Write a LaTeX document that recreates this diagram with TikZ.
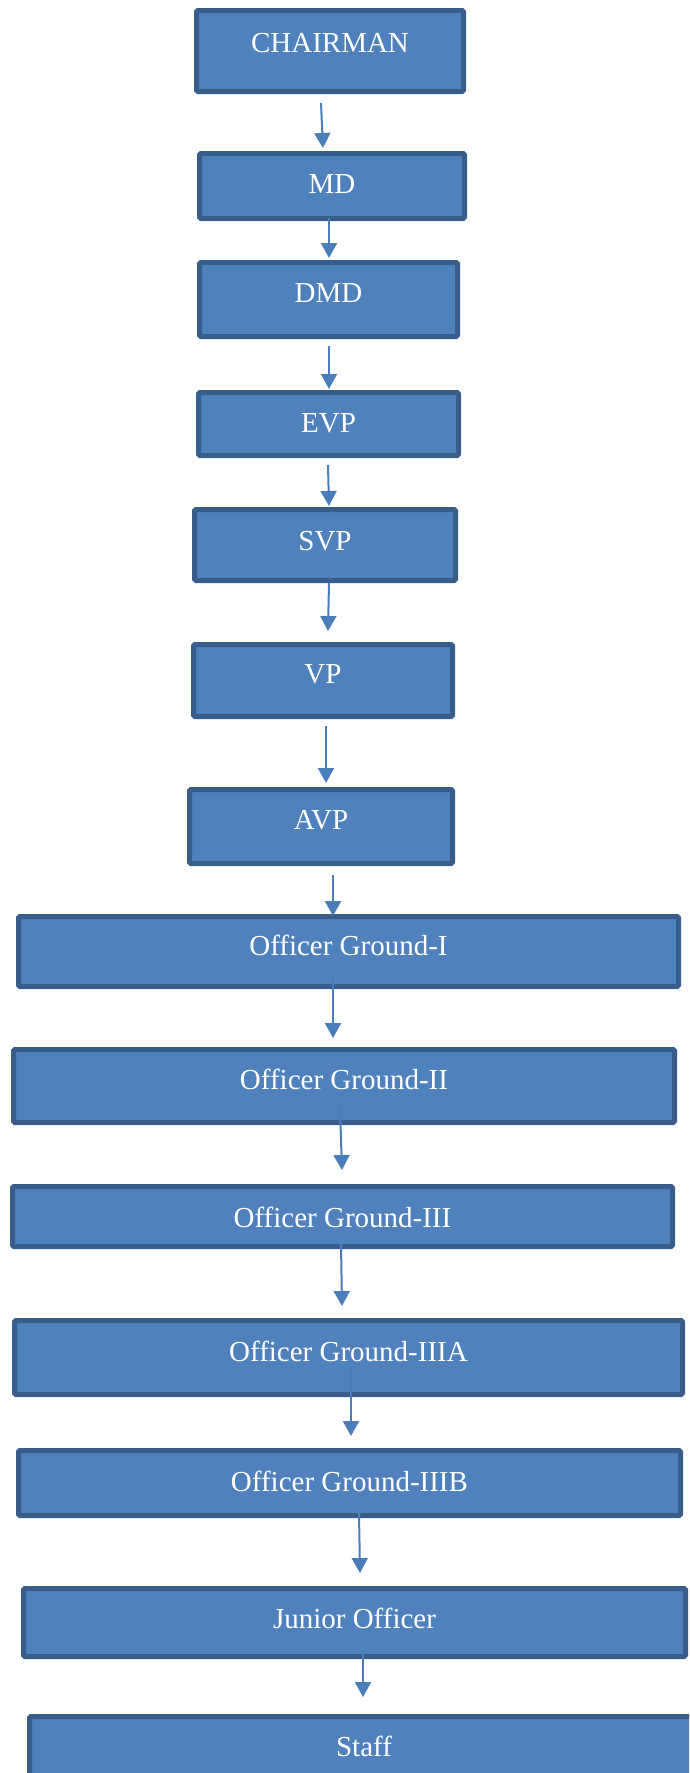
\documentclass[tikz,border=0pt]{standalone}
\usepackage{fontspec}
\setmainfont{Liberation Serif}
\usetikzlibrary{arrows.meta}
\definecolor{boxfill}{HTML}{4F81BD}
\definecolor{boxline}{HTML}{385D8A}
\definecolor{linkcol}{HTML}{4A7EBB}
\tikzset{
  rankbox/.style={rectangle, draw=boxline, fill=boxfill, line width=5pt,
    rounded corners=1.5pt, inner sep=0pt, anchor=north west,
    text=white, font=\fontsize{29}{34}\selectfont},
  conn/.style={draw=linkcol, line width=2pt,
    -{Triangle[width=16pt,length=15pt]}, fill=linkcol}
}
\begin{document}
\begin{tikzpicture}[x=1pt, y=-1pt]
\path[use as bounding box] (0,0) rectangle (689,1773);
\clip (0,0) rectangle (689,1773);

% hierarchy boxes (outer top-left corner, stroke-path size, text placement)
\node[rankbox, minimum width=267pt, minimum height=81pt, text height=41.5pt, text depth=39.5pt] (chair) at (194,8) {CHAIRMAN};
\node[rankbox, minimum width=265pt, minimum height=65pt, text height=39.5pt, text depth=25.5pt] (md) at (197,151) {MD};
\node[rankbox, minimum width=258pt, minimum height=74pt, text height=39.5pt, text depth=34.5pt] (dmd) at (197,260) {DMD};
\node[rankbox, minimum width=260pt, minimum height=63pt, text height=39.5pt, text depth=23.5pt] (evp) at (196,390) {EVP};
\node[rankbox, minimum width=261pt, minimum height=71pt, text height=40.5pt, text depth=30.5pt] (svp) at (192,507) {SVP};
\node[rankbox, minimum width=259pt, minimum height=72pt, text height=38.5pt, text depth=33.5pt] (vp) at (191,642) {VP};
\node[rankbox, minimum width=263pt, minimum height=74pt, text height=39.5pt, text depth=34.5pt] (avp) at (187,787) {AVP};
\node[rankbox, minimum width=660pt, minimum height=70pt, text height=38.5pt, text depth=31.5pt] (og1) at (16,914) {Officer Ground-I};
\node[rankbox, minimum width=661pt, minimum height=73pt, text height=39.5pt, text depth=33.5pt] (og2) at (11,1047) {Officer Ground-II};
\node[rankbox, minimum width=660pt, minimum height=60pt, text height=40.5pt, text depth=19.5pt] (og3) at (10,1184) {Officer Ground-III};
\node[rankbox, minimum width=668pt, minimum height=74pt, text height=40.5pt, text depth=33.5pt] (og3a) at (12,1318) {Officer Ground-IIIA};
\node[rankbox, minimum width=662pt, minimum height=65pt, text height=40.5pt, text depth=24.5pt] (og3b) at (16,1448) {Officer Ground-IIIB};
\node[rankbox, minimum width=662pt, minimum height=68pt, text height=39.5pt, text depth=28.5pt] (junior) at (21,1586) {Junior Officer};
\node[rankbox, minimum width=669pt, minimum height=71pt, text height=39.5pt, text depth=31.5pt] (staff) at (27,1714) {Staff};

% reporting arrows
\draw[conn] ([shift={(127,9)}]chair.south west) -- ([shift={(126,-3)}]md.north west);
\draw[conn] ([shift={(132,-3)}]md.south west) -- ([shift={(132,-2)}]dmd.north west);
\draw[conn] ([shift={(132,7)}]dmd.south west) -- ([shift={(133,-1)}]evp.north west);
\draw[conn] ([shift={(132,7)}]evp.south west) -- ([shift={(137,-1)}]svp.north west);
\draw[conn] ([shift={(137,0)}]svp.south west) -- ([shift={(137,-11)}]vp.north west);
\draw[conn] ([shift={(135,7)}]vp.south west) -- ([shift={(139,-4)}]avp.north west);
\draw[conn] ([shift={(146,9)}]avp.south west) -- ([shift={(317,2)}]og1.north west);
\draw[conn] ([shift={(317,-16)}]og1.south west) -- ([shift={(322,-9)}]og2.north west);
\draw[conn] ([shift={(329,-18)}]og2.south west) -- ([shift={(332,-14)}]og3.north west);
\draw[conn] ([shift={(331,-6)}]og3.south west) -- ([shift={(330,-12)}]og3a.north west);
\draw[conn] ([shift={(339,-27)}]og3a.south west) -- ([shift={(335,-12)}]og3b.north west);
\draw[conn] ([shift={(343,-5)}]og3b.south west) -- ([shift={(339,-13)}]junior.north west);
\draw[conn] ([shift={(342,-6)}]junior.south west) -- ([shift={(336,-17)}]staff.north west);
\end{tikzpicture}
\end{document}
